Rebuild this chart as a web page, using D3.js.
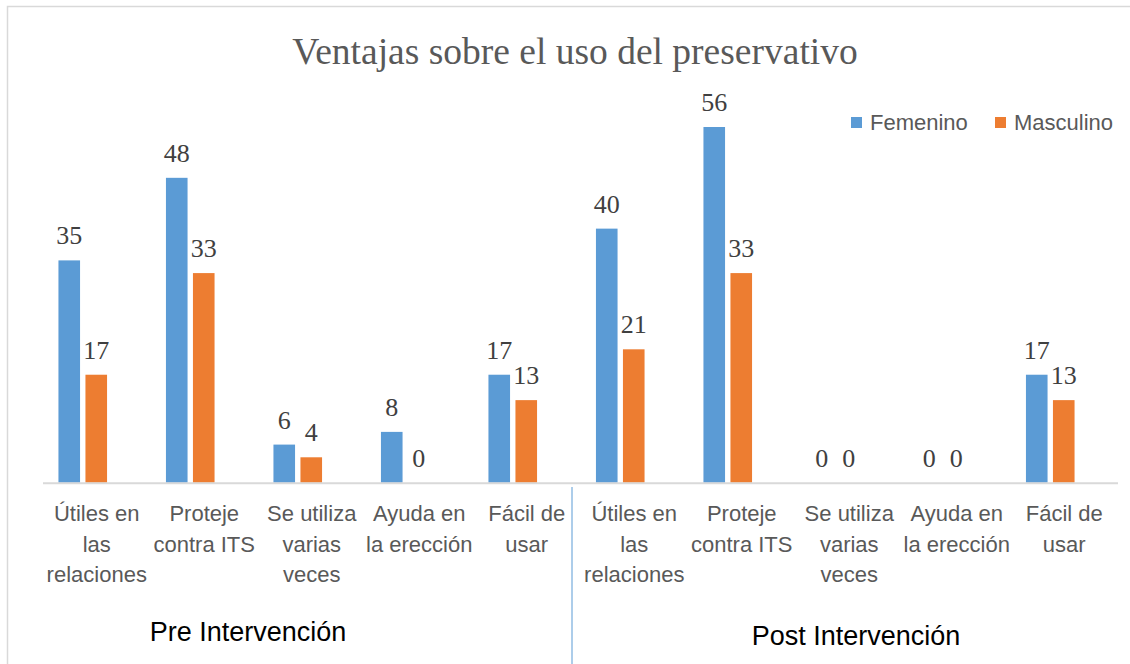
<!DOCTYPE html>
<html>
<head>
<meta charset="utf-8">
<script src="https://cdn.jsdelivr.net/npm/d3@7"></script>
<style>
  body { margin:0; background:#fff; }
  #chart { width:1130px; height:664px; }
  .cat_label { font-family:"Liberation Sans", Arial, sans-serif; font-size:22px; fill:#595959; }
  .val_label { font-family:"Liberation Serif", "Times New Roman", serif; font-size:26px; fill:#404040; }
</style>
</head>
<body>
<div id="chart"></div>
<script>
// data
var categories=["Útiles en las relaciones","Proteje contra ITS","Se utiliza varias veces","Ayuda en la erección","Fácil de usar",
                "Útiles en las relaciones ","Proteje contra ITS ","Se utiliza varias veces ","Ayuda en la erección ","Fácil de usar "];
var catLines=[["Útiles en","las","relaciones"],["Proteje","contra ITS"],["Se utiliza","varias","veces"],["Ayuda en","la erección"],["Fácil de","usar"],
              ["Útiles en","las","relaciones"],["Proteje","contra ITS"],["Se utiliza","varias","veces"],["Ayuda en","la erección"],["Fácil de","usar"]];
var femenino=[35,48,6,8,17,40,56,0,0,17];
var masculino=[17,33,4,0,13,21,33,0,0,13];
var seriesNames=["Femenino","Masculino"];
var seriesColors=["#5B9BD5","#ED7D31"];
var groups=["Pre Intervención","Post Intervención"];

var width=1130, height=664;
var svg=d3.select("#chart").append("svg")
    .attr("width",width)
    .attr("height",height);

// outer frame
svg.append("rect")
  .attr("x",7.5).attr("y",6.5)
  .attr("width",1140).attr("height",700)
  .attr("fill","none")
  .attr("stroke","#d9d9d9")
  .attr("stroke-width",1.5);

var xScale=d3.scaleBand()
    .domain(categories)
    .range([43,1118])
    .padding(0);
var x1=d3.scaleBand()
    .domain(seriesNames)
    .range([-24.3,24.3])
    .paddingInner(0.2);
var yScale=d3.scaleLinear()
    .domain([0,60])
    .range([482.7,101.6]);
var barShift=-14;

//title
svg.append("text")
  .attr("x",575).attr("y",64)
  .attr("text-anchor","middle")
  .style("font-family","'Liberation Serif', 'Times New Roman', serif")
  .style("font-size","37.5px")
  .style("fill","#595959")
  .text("Ventajas sobre el uso del preservativo");

// bars
var rows=categories.map(function(c,i){ return {cat:c, vals:[femenino[i],masculino[i]]}; });
var g=svg.selectAll(".grp")
    .data(rows)
    .enter()
    .append("g")
    .attr("class","grp")
    .attr("transform",function(d){ return "translate("+(xScale(d.cat)+xScale.bandwidth()/2+barShift)+",0)"; });

g.selectAll("rect")
  .data(function(d){ return d.vals.map(function(v,k){ return {s:seriesNames[k],v:v,k:k}; }); })
  .enter()
  .append("rect")
  .attr("x",function(d){ return x1(d.s); })
  .attr("y",function(d){ return yScale(d.v); })
  .attr("width",x1.bandwidth())
  .attr("height",function(d){ return yScale(0)-yScale(d.v); })
  .attr("fill",function(d){ return seriesColors[d.k]; });

g.selectAll(".val_label")
  .data(function(d){ return d.vals.map(function(v,k){ return {s:seriesNames[k],v:v}; }); })
  .enter()
  .append("text")
  .attr("class","val_label")
  .attr("x",function(d){ return x1(d.s)+x1.bandwidth()/2; })
  .attr("y",function(d){ return yScale(d.v)-16; })
  .attr("text-anchor","middle")
  .text(function(d){ return d.v; });

// axis line
svg.append("line")
  .attr("x1",xScale.range()[0]).attr("x2",xScale.range()[1])
  .attr("y1",yScale(0)+0.5).attr("y2",yScale(0)+0.5)
  .attr("stroke","#d9d9d9")
  .attr("stroke-width",2);

// category labels
var lab=svg.selectAll(".cat_label")
    .data(categories)
    .enter()
    .append("text")
    .attr("class","cat_label")
    .attr("text-anchor","middle");
lab.each(function(c,i){
  var t=d3.select(this);
  catLines[i].forEach(function(line,j){
    t.append("tspan")
      .attr("x",xScale(c)+xScale.bandwidth()/2)
      .attr("y",521+j*30.5)
      .text(line);
  });
});

// group divider (drawn a bit left of the band edge, as in the original)
svg.append("line")
  .attr("x1",xScale(categories[5])-8.5).attr("x2",xScale(categories[5])-8.5)
  .attr("y1",487).attr("y2",height)
  .attr("stroke","#5B9BD5")
  .attr("stroke-width",1);

// group labels
var groupX=[248,856], groupY=[641,645];
svg.selectAll(".grp_label")
  .data(groups)
  .enter()
  .append("text")
  .attr("x",function(d,i){ return groupX[i]; })
  .attr("y",function(d,i){ return groupY[i]; })
  .attr("text-anchor","middle")
  .style("font-family","'Liberation Sans', Arial, sans-serif")
  .style("font-size","27px")
  .style("fill","#000")
  .text(function(d){ return d; });

// legend
var legX=[851,995];
var leg=svg.selectAll(".leg")
    .data(seriesNames)
    .enter()
    .append("g")
    .attr("transform",function(d,i){ return "translate("+legX[i]+",117)"; });
leg.append("rect")
  .attr("width",11).attr("height",11)
  .attr("fill",function(d,i){ return seriesColors[i]; });
leg.append("text")
  .attr("x",19).attr("y",13)
  .style("font-family","'Liberation Sans', Arial, sans-serif")
  .style("font-size","22px")
  .style("fill","#595959")
  .text(function(d){ return d; });
</script>
</body>
</html>
